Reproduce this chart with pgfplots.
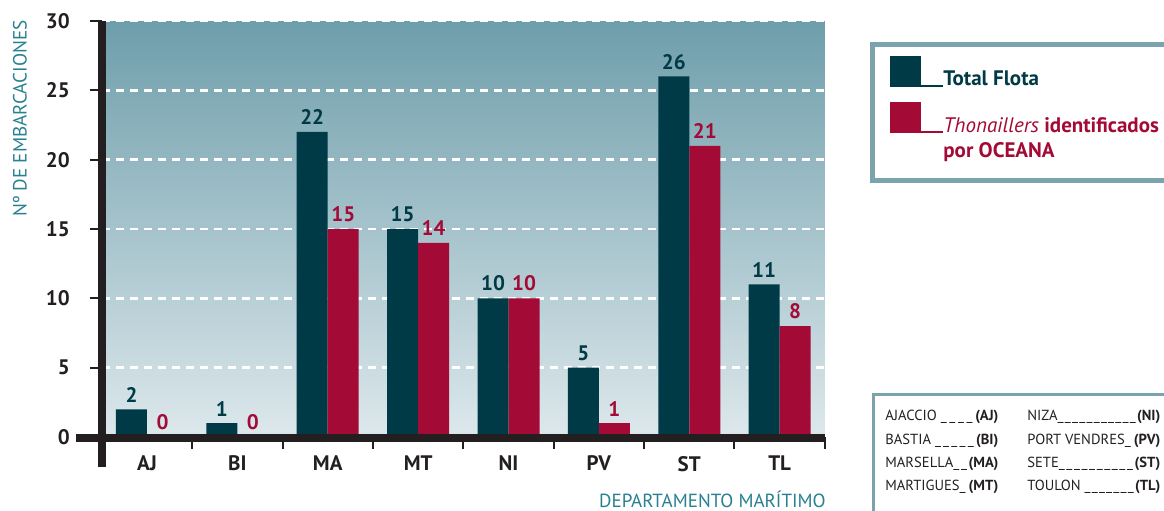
\documentclass[border=0pt]{standalone}
\usepackage{pgfplots}
\pgfplotsset{compat=1.18}
\usepackage{fontspec}
\setmainfont{PT Sans}
\definecolor{dark}{RGB}{0,58,71}
\definecolor{redb}{RGB}{163,10,54}
\definecolor{axk}{RGB}{35,31,32}
\definecolor{ttl}{RGB}{40,128,145}
\definecolor{bgtop}{RGB}{110,158,171}
\definecolor{bgbot}{RGB}{221,232,236}
\definecolor{frm}{RGB}{122,163,174}
\newcommand\abbr[3]{\hbox to #1{#2\_\kern0.6pt\xleaders\hbox{\_\kern0.6pt}\hfill\textbf{(#3)}}}
\newcommand\lblfont{\fontsize{10.5}{12}\selectfont\bfseries}
\begin{document}
\begin{tikzpicture}[x=0.5pt,y=0.5pt]
\path[use as bounding box] (0,0) rectangle (1164,510);
\begin{axis}[
  at={(73.5pt,36.5pt)}, anchor=origin,
  scale only axis, width=361.5pt, height=208pt,
  xmin=-0.5, xmax=7.5, ymin=0, ymax=30,
  ybar=0pt, bar width=15.5pt,
  axis line style={draw=none},
  tick pos=left,
  xtick={0,...,7}, xticklabels={AJ,BI,MA,MT,NI,PV,ST,TL},
  minor xtick={0.5,1.5,...,7.5},
  ytick={0,5,...,30},
  tick align=outside,
  major tick length=6pt, minor tick length=6pt,
  major x tick style={draw=none},
  minor x tick style={axk, line width=1pt},
  y tick style={axk, line width=1pt},
  ymajorgrids,
  grid style={white, line width=1.3pt, dash pattern=on 4pt off 3pt},
  /pgf/number format/assume math mode=true,
  tick label style={font=\lblfont, text=axk},
  yticklabel style={xshift=-6.5pt},
  axis background/.style={top color=bgtop, bottom color=bgbot},
  clip=false,
]
\addplot[fill=dark, draw=none, nodes near coords,
  every node near coord/.append style={text=dark, font=\lblfont}]
  coordinates {(0,2) (1,1) (2,22) (3,15) (4,10) (5,5) (6,26) (7,11)};
\addplot[fill=redb, draw=none, nodes near coords,
  every node near coord/.append style={text=redb, font=\lblfont}]
  coordinates {(0,0) (1,0) (2,15) (3,14) (4,10) (5,1) (6,21) (7,8)};
\draw[axk, line width=3.8pt] (axis cs:-0.5,30) -- (axis cs:-0.5,-2.16);
\draw[axk, line width=3.8pt] (axis cs:-0.79,-0.07) -- (axis cs:7.5,-0.07);
\end{axis}
% axis titles
\node[rotate=90, anchor=east, text=ttl, font=\fontsize{9.6}{11}\selectfont, inner sep=0pt] at (20,490) {Nº DE EMBARCACIONES};
\node[anchor=base east, text=ttl, font=\fontsize{9.5}{11}\selectfont, inner sep=0pt] at (826,3) {DEPARTAMENTO MARÍTIMO};
% legend
\draw[frm, line width=2.5pt] (872.5,465.5) rectangle (1220,329.5);
\fill[dark] (890,423) rectangle (921,454);
\draw[dark, line width=1pt] (921,423.5) -- (943,423.5);
\node[anchor=base west, inner sep=0pt, text=dark, font=\lblfont] at (943,424) {Total Flota};
\fill[redb] (890,377) rectangle (921,408);
\draw[redb, line width=1pt] (921,377.5) -- (943,377.5);
\node[anchor=base west, inner sep=0pt, text=redb, font=\lblfont] at (943,378) {{\mdseries\itshape Thonaillers} identificados};
\node[anchor=base west, inner sep=0pt, text=redb, font=\lblfont] at (943,352) {por OCEANA};
% abbreviations box
\draw[frm, line width=1.2pt] (873.5,115.5) rectangle (1220,-20);
\begin{scope}[every node/.style={anchor=base west, inner sep=0pt, text=axk, font=\fontsize{7.3}{8}\selectfont}]
\node at (885,89.3) {\abbr{56.5pt}{AJACCIO }{AJ}};
\node at (885,66) {\abbr{56.5pt}{BASTIA }{BI}};
\node at (885,42.7) {\abbr{56.5pt}{MARSELLA}{MA}};
\node at (885,19.3) {\abbr{56.5pt}{MARTIGUES}{MT}};
\node at (1027,89.3) {\abbr{66.5pt}{NIZA}{NI}};
\node at (1027,66) {\abbr{66.5pt}{PORT VENDRES}{PV}};
\node at (1027,42.7) {\abbr{66.5pt}{SETE}{ST}};
\node at (1027,19.3) {\abbr{66.5pt}{TOULON }{TL}};
\end{scope}
\end{tikzpicture}
\end{document}
